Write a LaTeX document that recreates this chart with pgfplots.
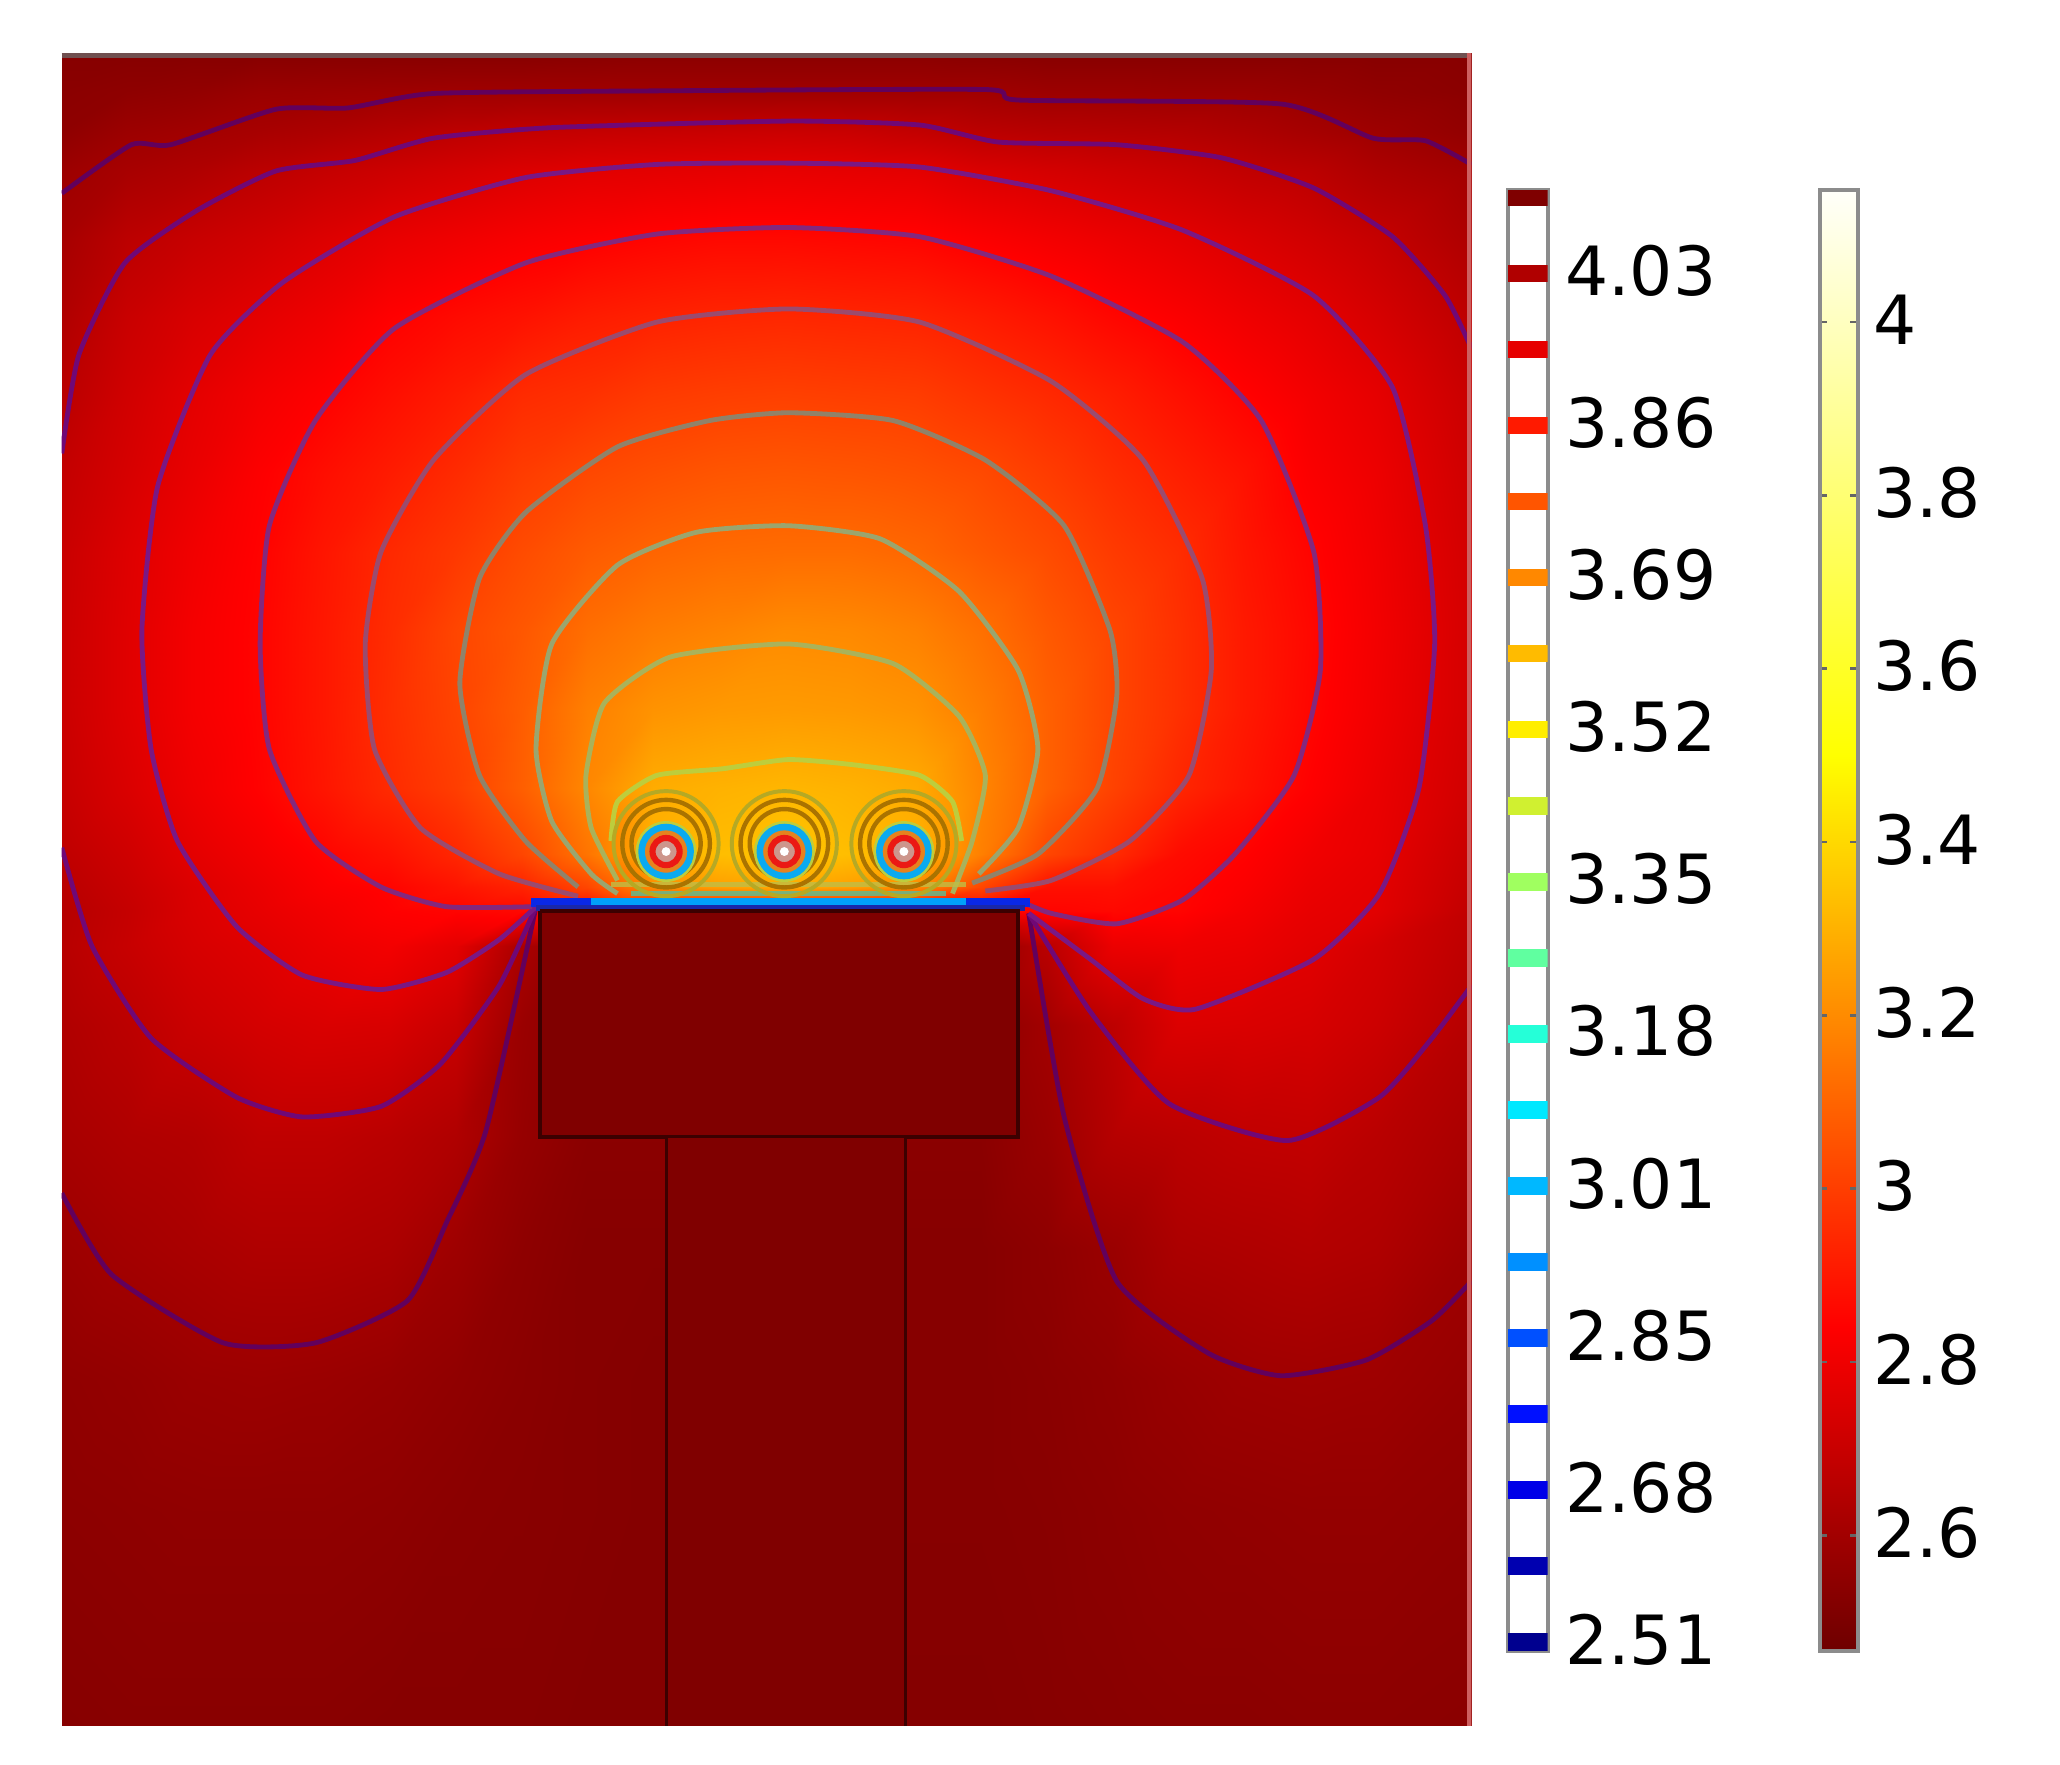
\documentclass[border=0pt]{standalone}
\usepackage{fontspec}
\setmainfont{DejaVu Sans}
\usepackage{pgfplots}
\pgfplotsset{compat=1.18}
\definecolor{cA}{RGB}{98,0,92}
\definecolor{cB}{RGB}{112,8,118}
\definecolor{cC}{RGB}{122,24,132}
\definecolor{cD}{RGB}{132,40,125}
\definecolor{cE}{RGB}{155,75,110}
\definecolor{cF}{RGB}{145,130,105}
\definecolor{cG}{RGB}{155,165,110}
\definecolor{cH}{RGB}{170,178,90}
\definecolor{cI}{RGB}{190,205,60}
\definecolor{brown1}{RGB}{170,115,0}
\definecolor{rectcol}{RGB}{128,0,0}
\definecolor{rectline}{RGB}{60,0,0}
\definecolor{frameg}{RGB}{140,140,140}
\pgfplotsset{colormap={thermal}{rgb255(0)=(110,0,0) rgb255(222)=(255,0,0) rgb255(613)=(255,255,0) rgb255(1000)=(255,255,250)}}
\begin{document}
\begin{tikzpicture}
\path[use as bounding box] (0,0) rectangle (470.4pt,403pt);
\begin{axis}[
  at={(14.1pt,8.9pt)},anchor=south west,
  scale only axis,width=321.9pt,height=382.05pt,
  xmin=47,xmax=1120,ymin=40,ymax=1313.5,y dir=reverse,hide axis,
  colormap name=thermal,point meta min=2.466,point meta max=4.152,
  contour/.style={line width=1.1pt,no marks,line join=round,smooth,tension=0.35},
]
\addplot[surf,shader=interp,mesh/cols=22,point meta=explicit] table[x=x,y=y,meta=v] {
x y v
47 40 2.53
97 40 2.53
147 40 2.53
197 40 2.53
247 40 2.53
297 40 2.53
347 40 2.53
397 40 2.53
447 40 2.535
497 40 2.54
547 40 2.54
597 40 2.54
647 40 2.54
697 40 2.54
747 40 2.535
797 40 2.53
847 40 2.53
897 40 2.53
947 40 2.53
997 40 2.53
1047 40 2.53
1120 40 2.53
47 70 2.54
97 70 2.55
147 70 2.56
197 70 2.58
247 70 2.585
297 70 2.59
347 70 2.595
397 70 2.595
447 70 2.595
497 70 2.595
547 70 2.595
597 70 2.595
647 70 2.595
697 70 2.595
747 70 2.595
797 70 2.585
847 70 2.585
897 70 2.58
947 70 2.58
997 70 2.57
1047 70 2.555
1120 70 2.54
47 100 2.55
97 100 2.585
147 100 2.60
197 100 2.615
247 100 2.63
297 100 2.65
347 100 2.67
397 100 2.685
447 100 2.69
497 100 2.695
547 100 2.70
597 100 2.705
647 100 2.70
697 100 2.685
747 100 2.665
797 100 2.655
847 100 2.65
897 100 2.645
947 100 2.63
997 100 2.61
1047 100 2.59
1120 100 2.56
47 130 2.585
97 130 2.615
147 130 2.635
197 130 2.665
247 130 2.69
297 130 2.71
347 130 2.73
397 130 2.75
447 130 2.765
497 130 2.77
547 130 2.775
597 130 2.78
647 130 2.775
697 130 2.77
747 130 2.745
797 130 2.73
847 130 2.715
897 130 2.70
947 130 2.68
997 130 2.665
1047 130 2.63
1120 130 2.60
47 180 2.61
97 180 2.665
147 180 2.695
197 180 2.72
247 180 2.75
297 180 2.78
347 180 2.80
397 180 2.82
447 180 2.835
497 180 2.85
547 180 2.86
597 180 2.86
647 180 2.855
697 180 2.85
747 180 2.83
797 180 2.81
847 180 2.79
897 180 2.77
947 180 2.745
997 180 2.72
1047 180 2.69
1120 180 2.63
47 240 2.635
97 240 2.70
147 240 2.74
197 240 2.77
247 240 2.80
297 240 2.84
347 240 2.865
397 240 2.885
447 240 2.91
497 240 2.925
547 240 2.935
597 240 2.94
647 240 2.935
697 240 2.93
747 240 2.91
797 240 2.885
847 240 2.855
897 240 2.83
947 240 2.80
997 240 2.772
1047 240 2.735
1120 240 2.67
47 300 2.66
97 300 2.72
147 300 2.77
197 300 2.81
247 300 2.84
297 300 2.876
347 300 2.91
397 300 2.95
447 300 2.965
497 300 2.99
547 300 3.00
597 300 3.005
647 300 3.00
697 300 2.995
747 300 2.97
797 300 2.945
847 300 2.915
897 300 2.88
947 300 2.845
997 300 2.81
1047 300 2.775
1120 300 2.70
47 360 2.685
97 360 2.735
147 360 2.785
197 360 2.835
247 360 2.875
297 360 2.91
347 360 2.95
397 360 2.995
447 360 3.025
497 360 3.045
547 360 3.06
597 360 3.065
647 360 3.06
697 360 3.05
747 360 3.03
797 360 2.995
847 360 2.955
897 360 2.92
947 360 2.885
997 360 2.83
1047 360 2.795
1120 360 2.715
47 420 2.70
97 420 2.755
147 420 2.805
197 420 2.845
247 420 2.895
297 420 2.945
347 420 2.985
397 420 3.035
447 420 3.075
497 420 3.10
547 420 3.115
597 420 3.12
647 420 3.12
697 420 3.105
747 420 3.07
797 420 3.035
847 420 2.99
897 420 2.955
947 420 2.895
997 420 2.85
1047 420 2.805
1120 420 2.725
47 480 2.705
97 480 2.76
147 480 2.815
197 480 2.85
247 480 2.90
297 480 2.955
347 480 3.02
397 480 3.065
447 480 3.125
497 480 3.16
547 480 3.18
597 480 3.20
647 480 3.195
697 480 3.175
747 480 3.13
797 480 3.07
847 480 3.02
897 480 2.965
947 480 2.905
997 480 2.86
1047 480 2.81
1120 480 2.73
47 540 2.705
97 540 2.76
147 540 2.815
197 540 2.85
247 540 2.90
297 540 2.96
347 540 3.015
397 540 3.08
447 540 3.17
497 540 3.22
547 540 3.235
597 540 3.24
647 540 3.235
697 540 3.22
747 540 3.165
797 540 3.09
847 540 3.02
897 540 2.965
947 540 2.905
997 540 2.855
1047 540 2.805
1120 540 2.73
47 600 2.695
97 600 2.745
147 600 2.80
197 600 2.845
247 600 2.895
297 600 2.95
347 600 3.00
397 600 3.085
447 600 3.19
497 600 3.285
547 600 3.30
597 600 3.31
647 600 3.30
697 600 3.28
747 600 3.185
797 600 3.09
847 600 3.01
897 600 2.94
947 600 2.89
997 600 2.84
1047 600 2.79
1120 600 2.72
47 650 2.675
97 650 2.715
147 650 2.77
197 650 2.81
247 650 2.85
297 650 2.885
347 650 2.94
397 650 3.02
447 650 3.14
497 650 3.30
547 650 3.33
597 650 3.35
647 650 3.33
697 650 3.30
747 650 3.17
797 650 3.02
847 650 2.95
897 650 2.87
947 650 2.845
997 650 2.805
1047 650 2.78
1120 650 2.70
47 675 2.66
97 675 2.70
147 675 2.75
197 675 2.79
247 675 2.83
297 675 2.85
347 675 2.89
397 675 2.93
447 675 3.02
497 675 3.20
547 675 3.25
597 675 3.28
647 675 3.25
697 675 3.20
747 675 3.02
797 675 2.88
847 675 2.88
897 675 2.855
947 675 2.83
997 675 2.79
1047 675 2.77
1120 675 2.69
47 693 2.65
97 693 2.69
147 693 2.745
197 693 2.78
247 693 2.81
297 693 2.84
347 693 2.85
397 693 2.86
447 693 2.85
497 693 2.85
547 693 2.85
597 693 2.85
647 693 2.85
697 693 2.85
747 693 2.85
797 693 2.85
847 693 2.86
897 693 2.85
947 693 2.815
997 693 2.78
1047 693 2.765
1120 693 2.68
47 720 2.655
97 720 2.695
147 720 2.735
197 720 2.76
247 720 2.79
297 720 2.81
347 720 2.77
397 720 2.62
447 720 2.55
497 720 2.55
547 720 2.55
597 720 2.55
647 720 2.55
697 720 2.55
747 720 2.55
797 720 2.66
847 720 2.79
897 720 2.80
947 720 2.79
997 720 2.765
1047 720 2.73
1120 720 2.67
47 780 2.636
97 780 2.665
147 780 2.705
197 780 2.73
247 780 2.745
297 780 2.74
347 780 2.70
397 780 2.58
447 780 2.54
497 780 2.54
547 780 2.54
597 780 2.54
647 780 2.54
697 780 2.54
747 780 2.54
797 780 2.60
847 780 2.67
897 780 2.75
947 780 2.745
997 780 2.735
1047 780 2.71
1120 780 2.65
47 865 2.615
97 865 2.635
147 865 2.645
197 865 2.675
247 865 2.675
297 865 2.66
347 865 2.635
397 865 2.57
447 865 2.54
497 865 2.54
547 865 2.54
597 865 2.54
647 865 2.54
697 865 2.54
747 865 2.54
797 865 2.58
847 865 2.65
897 865 2.665
947 865 2.68
997 865 2.685
1047 865 2.66
1120 865 2.62
47 950 2.585
97 950 2.605
147 950 2.62
197 950 2.635
247 950 2.635
297 950 2.625
347 950 2.59
397 950 2.55
447 950 2.53
497 950 2.53
547 950 2.53
597 950 2.53
647 950 2.53
697 950 2.53
747 950 2.53
797 950 2.55
847 950 2.58
897 950 2.625
947 950 2.635
997 950 2.645
1047 950 2.635
1120 950 2.59
47 1050 2.555
97 1050 2.565
147 1050 2.58
197 1050 2.585
247 1050 2.58
297 1050 2.57
347 1050 2.555
397 1050 2.54
447 1050 2.53
497 1050 2.525
547 1050 2.525
597 1050 2.525
647 1050 2.525
697 1050 2.53
747 1050 2.53
797 1050 2.54
847 1050 2.555
897 1050 2.575
947 1050 2.59
997 1050 2.595
1047 1050 2.59
1120 1050 2.57
47 1150 2.545
97 1150 2.55
147 1150 2.555
197 1150 2.555
247 1150 2.555
297 1150 2.55
347 1150 2.54
397 1150 2.535
447 1150 2.53
497 1150 2.525
547 1150 2.525
597 1150 2.525
647 1150 2.525
697 1150 2.53
747 1150 2.53
797 1150 2.535
847 1150 2.545
897 1150 2.555
947 1150 2.56
997 1150 2.565
1047 1150 2.565
1120 1150 2.555
47 1314 2.53
97 1314 2.535
147 1314 2.535
197 1314 2.535
247 1314 2.535
297 1314 2.53
347 1314 2.53
397 1314 2.53
447 1314 2.525
497 1314 2.525
547 1314 2.525
597 1314 2.525
647 1314 2.525
697 1314 2.525
747 1314 2.525
797 1314 2.53
847 1314 2.535
897 1314 2.54
947 1314 2.54
997 1314 2.545
1047 1314 2.545
1120 1314 2.54
};
% contours
\addplot[contour,cA] coordinates {(47,147)(100,110)(130,110)(210,83)(265,82)(330,71)(500,69)(750,68)(775,76)(975,79)(1045,105)(1085,107)(1120,125)};
\addplot[contour,cA] coordinates {(47,908)(85,970)(170,1022)(240,1022)(310,990)(340,930)(370,860)(408,690)};
\addplot[contour,cA] coordinates {(783,695)(810,850)(850,975)(920,1030)(975,1047)(1040,1035)(1090,1005)(1120,975)};
\addplot[contour,cB] coordinates {(47,345)(60,270)(95,200)(150,160)(210,130)(270,122)(330,105)(420,97)(600,92)(700,95)(760,108)(850,110)(930,120)(1000,143)(1060,180)(1100,225)(1120,265)};
\addplot[contour,cB] coordinates {(47,645)(70,720)(115,790)(180,835)(230,850)(290,842)(335,810)(380,750)(408,690)};
\addplot[contour,cB] coordinates {(783,695)(830,770)(890,840)(980,868)(1050,835)(1090,790)(1120,750)};
\addplot[contour,cC] coordinates {(408,690)(380,715)(340,740)(290,753)(230,742)(180,705)(135,640)(115,570)(108,480)(120,370)(160,270)(215,215)(300,165)(400,135)(500,125)(600,124)(700,127)(800,145)(900,175)(1000,225)(1060,295)(1085,400)(1092,490)(1080,600)(1050,680)(1000,730)(910,768)(870,760)(830,730)(783,695)};
\addplot[contour,cD] coordinates {(405,690)(340,690)(290,675)(240,640)(205,570)(198,490)(205,400)(240,320)(300,250)(400,200)(500,178)(600,173)(700,180)(800,210)(900,260)(960,320)(1000,420)(1005,510)(985,590)(940,650)(900,685)(850,703)(800,695)(775,685)};
\addplot[contour,cE] coordinates {(440,682)(380,665)(320,630)(285,570)(278,490)(290,420)(330,350)(400,285)(500,245)(600,235)(700,245)(800,290)(870,350)(915,440)(922,510)(905,590)(860,640)(800,670)(750,678)};
\addplot[contour,cF] coordinates {(440,675)(400,640)(365,590)(350,520)(365,440)(400,390)(470,340)(540,320)(600,314)(680,320)(750,350)(810,400)(845,480)(850,530)(835,600)(790,650)(740,672)};
\addplot[contour,cG] coordinates {(470,680)(450,665)(420,625)(408,570)(420,490)(470,430)(530,405)(600,400)(670,410)(730,450)(775,510)(790,570)(775,630)(745,665)};
\addplot[contour,cH] coordinates {(470,670)(450,630)(446,590)(460,535)(510,500)(600,490)(680,505)(730,545)(750,590)(740,640)(725,680)};
\addplot[contour,cI] coordinates {(465,640)(470,610)(500,590)(550,585)(600,578)(650,582)(700,590)(725,610)(732,640)};
% wires: rings as marks
\addplot[only marks,mark=o,mark size=12pt,mark options={draw=cI!60!brown1,line width=0.9pt}] coordinates {(507,642)(597,642)(688,642)};
\addplot[only marks,mark=o,mark size=10pt,mark options={draw=brown1,line width=1pt}] coordinates {(507,642)(597,642)(688,642)};
\addplot[only marks,mark=o,mark size=7.9pt,mark options={draw=brown1,line width=1pt}] coordinates {(507,642)(597,642)(688,642)};
\addplot[only marks,mark=o,mark size=6.6pt,mark options={draw=cI,line width=0.7pt}] coordinates {(507,648)(597,648)(688,648)};
\addplot[only marks,mark=*,mark size=5.6pt,mark options={draw={rgb,255:red,10;green,170;blue,240},line width=1.5pt,fill={rgb,255:red,230;green,130;blue,30}}] coordinates {(507,648)(597,648)(688,648)};
\addplot[only marks,mark=*,mark size=3.1pt,mark options={draw={rgb,255:red,235;green,25;blue,20},line width=1.4pt,fill={rgb,255:red,205;green,150;blue,140}}] coordinates {(507,648)(597,648)(688,648)};
\addplot[only marks,mark=*,mark size=0.8pt,mark options={draw=white,fill=white}] coordinates {(507,648)(597,648)(688,648)};
% bands above block
\addplot[no marks,line width=1.2pt,opacity=0.8,color={rgb,255:red,190;green,190;blue,70}] coordinates {(465,673)(735,673)};
\addplot[no marks,line width=1.2pt,opacity=0.8,color={rgb,255:red,90;green,190;blue,150}] coordinates {(480,680)(720,680)};
\addplot[no marks,line width=2pt,color={rgb,255:red,10;green,40;blue,230}] coordinates {(404,687)(784,687)};
\addplot[no marks,line width=1.5pt,color={rgb,255:red,0;green,160;blue,250}] coordinates {(450,686)(735,686)};
\addplot[no marks,line width=1.2pt,color={rgb,255:red,25;green,40;blue,170}] coordinates {(408,691)(780,691)};
% block and stem
\addplot[fill=rectcol,draw=rectline,line width=0.9pt] coordinates {(411,693)(775,693)(775,865)(411,865)(411,693)};
\addplot[fill=rectcol,draw=none] coordinates {(507,866)(689,866)(689,1314)(507,1314)};
\addplot[no marks,rectline,line width=0.7pt] coordinates {(507,865)(507,1314)};
\addplot[no marks,rectline,line width=0.7pt] coordinates {(689,865)(689,1314)};
% frame strips
\addplot[no marks,color={rgb,255:red,112;green,80;blue,80},line width=1.2pt] coordinates {(47,42)(1120,42)};
\addplot[no marks,color={rgb,255:red,205;green,95;blue,95},line width=1pt] coordinates {(1118.5,40)(1118.5,1314)};
\end{axis}
% contour-level legend
\begin{axis}[
  at={(344.4pt,25.9pt)},anchor=south west,
  scale only axis,width=9pt,height=333.6pt,
  xmin=0,xmax=1,ymin=2.4998,ymax=4.127,
  xtick=\empty,
  ytick={2.51,2.6794,2.8488,3.0182,3.1876,3.357,3.5264,3.6958,3.8652,4.0346},
  yticklabels={2.51,2.68,2.85,3.01,3.18,3.35,3.52,3.69,3.86,4.03},
  ytick pos=right,yticklabel pos=right,
  major tick length=0pt,tick label style={font=\fontsize{15.5}{18}\selectfont},
  yticklabel style={inner sep=0pt,xshift=3.8pt,yshift=0.6pt},
  axis line style={frameg,line width=0.9pt},
  band/.style={no marks,line width=4pt},
  clip=true,
]
\addplot[band,color={rgb,255:red,0;green,0;blue,143}] coordinates {(0,2.51)(1,2.51)};
\addplot[band,color={rgb,255:red,0;green,0;blue,176}] coordinates {(0,2.5947)(1,2.5947)};
\addplot[band,color={rgb,255:red,0;green,0;blue,232}] coordinates {(0,2.6794)(1,2.6794)};
\addplot[band,color={rgb,255:red,0;green,16;blue,255}] coordinates {(0,2.7641)(1,2.7641)};
\addplot[band,color={rgb,255:red,0;green,80;blue,255}] coordinates {(0,2.8488)(1,2.8488)};
\addplot[band,color={rgb,255:red,0;green,144;blue,255}] coordinates {(0,2.9335)(1,2.9335)};
\addplot[band,color={rgb,255:red,0;green,184;blue,255}] coordinates {(0,3.0182)(1,3.0182)};
\addplot[band,color={rgb,255:red,0;green,232;blue,255}] coordinates {(0,3.1029)(1,3.1029)};
\addplot[band,color={rgb,255:red,37;green,255;blue,216}] coordinates {(0,3.1876)(1,3.1876)};
\addplot[band,color={rgb,255:red,96;green,255;blue,160}] coordinates {(0,3.2723)(1,3.2723)};
\addplot[band,color={rgb,255:red,160;green,255;blue,96}] coordinates {(0,3.357)(1,3.357)};
\addplot[band,color={rgb,255:red,208;green,240;blue,48}] coordinates {(0,3.4417)(1,3.4417)};
\addplot[band,color={rgb,255:red,255;green,238;blue,0}] coordinates {(0,3.5264)(1,3.5264)};
\addplot[band,color={rgb,255:red,255;green,187;blue,0}] coordinates {(0,3.6111)(1,3.6111)};
\addplot[band,color={rgb,255:red,255;green,136;blue,0}] coordinates {(0,3.6958)(1,3.6958)};
\addplot[band,color={rgb,255:red,255;green,85;blue,0}] coordinates {(0,3.7805)(1,3.7805)};
\addplot[band,color={rgb,255:red,255;green,26;blue,0}] coordinates {(0,3.8652)(1,3.8652)};
\addplot[band,color={rgb,255:red,230;green,0;blue,0}] coordinates {(0,3.9499)(1,3.9499)};
\addplot[band,color={rgb,255:red,176;green,0;blue,0}] coordinates {(0,4.0346)(1,4.0346)};
\addplot[band,color={rgb,255:red,127;green,0;blue,0}] coordinates {(0,4.1193)(1,4.1193)};
\end{axis}
% colour scale
\begin{axis}[
  at={(415.5pt,25.9pt)},anchor=south west,
  scale only axis,width=8.7pt,height=333.6pt,
  xmin=0,xmax=1,ymin=2.466,ymax=4.152,
  colormap name=thermal,point meta min=2.466,point meta max=4.152,
  xtick=\empty,
  ytick={2.6,2.8,3,3.2,3.4,3.6,3.8,4},
  yticklabels={2.6,2.8,3,3.2,3.4,3.6,3.8,4},
  ytick pos=both,yticklabel pos=right,
  tick align=inside,major tick length=1.8pt,
  major tick style={black!60,line width=0.6pt},
  tick label style={font=\fontsize{15.5}{18}\selectfont},
  yticklabel style={inner sep=0pt,xshift=3.3pt,yshift=0.6pt},
  axis line style={frameg,line width=0.9pt},
  axis on top,
]
\addplot[surf,shader=interp,mesh/cols=2,point meta=y] coordinates {
(0,2.466)(1,2.466)
(0,2.84)(1,2.84)
(0,3.5)(1,3.5)
(0,4.152)(1,4.152)
};
\end{axis}
\end{tikzpicture}
\end{document}
